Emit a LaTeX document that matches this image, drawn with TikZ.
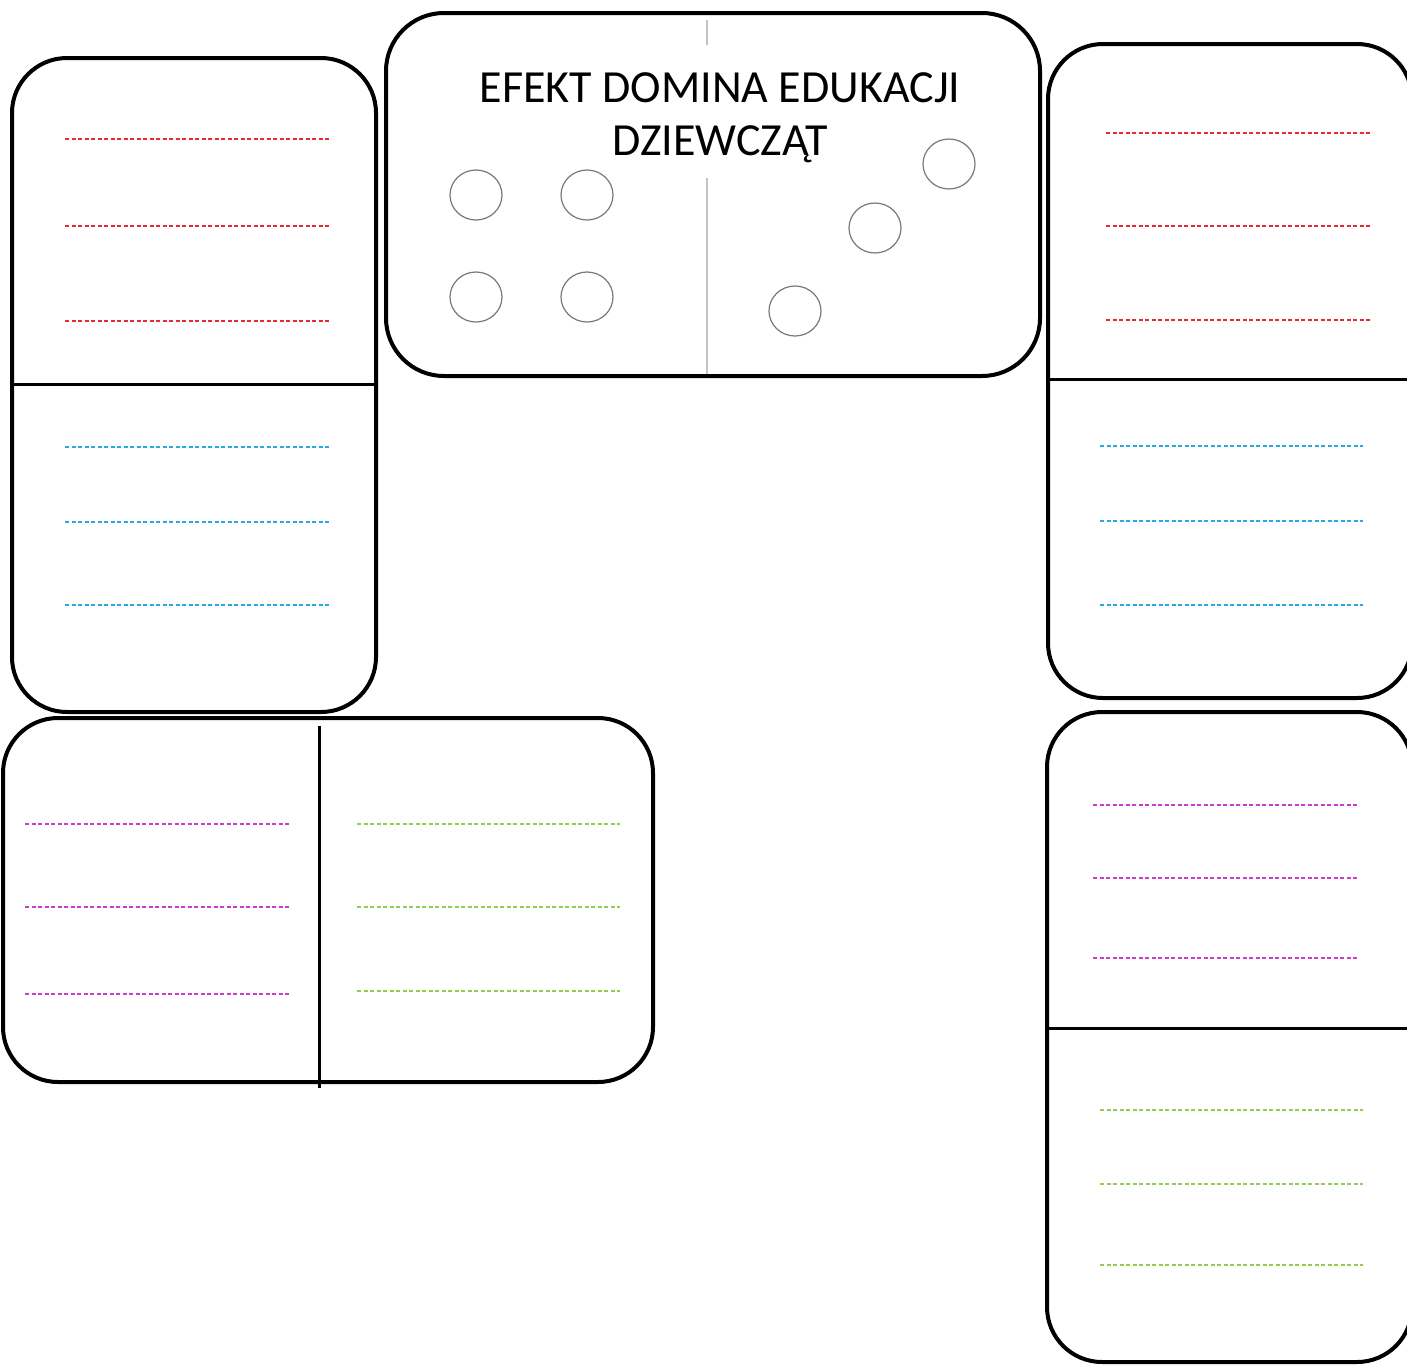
\documentclass[tikz,border=0pt]{standalone}
\usepackage{fontspec}
\setmainfont{Carlito}
\definecolor{dred}{RGB}{232,40,52}
\definecolor{dblue}{RGB}{40,170,222}
\definecolor{dmag}{RGB}{204,60,204}
\definecolor{dgreen}{RGB}{146,204,80}
\definecolor{cgray}{RGB}{120,120,120}
\definecolor{lgray}{RGB}{195,195,195}
\tikzset{
  tile/.style={draw=black, line width=4pt, rounded corners=55pt},
  divider/.style={draw=black, line width=3pt},
  wline/.style={line width=2.3pt, dash pattern=on 4pt off 2.5pt},
  pip/.style={draw=cgray, line width=1.2pt},
}
\begin{document}
\begin{tikzpicture}[x=1pt,y=-1pt]
\useasboundingbox (0,0) rectangle (1407,1365);
\fill[white] (0,0) rectangle (1407,1365);
\clip (0,0) rectangle (1407,1365);

% ---------- left tall tile ----------
\draw[tile] (12,58) rectangle (376,712);
\draw[divider] (12,384) -- (376,384);
\foreach \y in {139,226,321} \draw[wline,dred] (65,\y) -- (330,\y);
\foreach \y in {447,522,605} \draw[wline,dblue] (65,\y) -- (330,\y);

% ---------- top title tile ----------
\draw[tile,rounded corners=58pt] (386,13) rectangle (1040,376);
\draw[lgray,line width=2.5pt] (707,20) -- (707,45);
\draw[lgray,line width=2.5pt] (707,178) -- (707,374);
\node[font=\fontsize{46}{53}\selectfont, align=center, inner sep=0pt, anchor=north] (title) at (720,72)
  {EFEKT DOMINA EDUKACJI\\DZIEWCZĄT};
\foreach \x/\y in {476/195,587/195,476/297,587/297,949/164,875/228,795/311}
  \draw[pip] (\x,\y) ellipse [x radius=26, y radius=25];

% ---------- right top tile ----------
\draw[tile] (1048,44) rectangle (1412,698);
\draw[divider] (1048,379) -- (1412,379);
\foreach \y in {133,226,320} \draw[wline,dred] (1106,\y) -- (1370,\y);
\foreach \y in {446,521,605} \draw[wline,dblue] (1100,\y) -- (1363,\y);

% ---------- right bottom tile ----------
\draw[tile] (1047,712) rectangle (1412,1362);
\draw[divider] (1047,1028) -- (1412,1028);
\foreach \y in {805,878,958} \draw[wline,dmag] (1093,\y) -- (1357,\y);
\foreach \y in {1110,1184,1265} \draw[wline,dgreen] (1100,\y) -- (1363,\y);

% ---------- bottom left tile ----------
\draw[tile] (3,718) rectangle (653,1082);
\draw[divider] (319,726) -- (319,1088);
\foreach \y in {824,907,994} \draw[wline,dmag] (25,\y) -- (290,\y);
\foreach \y in {824,907,991} \draw[wline,dgreen] (357,\y) -- (620,\y);
\end{tikzpicture}
\end{document}
